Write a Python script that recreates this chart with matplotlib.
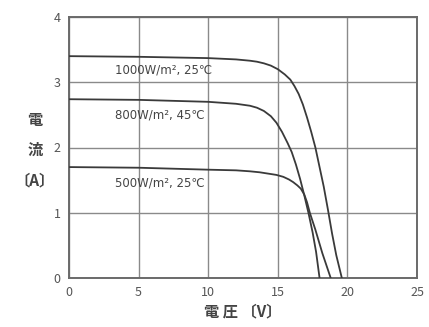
import matplotlib
matplotlib.use("Agg")
import matplotlib.pyplot as plt

# I-V curves: voltage (V), current (A)
v_1000 = [0, 5, 10, 12, 13, 13.5, 14.0, 14.5, 15.0, 15.5, 15.9, 16.2, 16.5,
          16.8, 17.1, 17.4, 17.7, 18.0, 18.3, 18.6, 18.9, 19.2, 19.6]
i_1000 = [3.40, 3.39, 3.37, 3.35, 3.33, 3.315, 3.29, 3.255, 3.20, 3.12, 3.04,
          2.94, 2.82, 2.66, 2.46, 2.24, 2.00, 1.70, 1.40, 1.05, 0.68, 0.35, 0.0]

v_800 = [0, 5, 10, 12, 13, 13.5, 14.0, 14.5, 14.9, 15.3, 15.7, 16.0, 16.3,
         16.6, 16.9, 17.2, 17.5, 17.75, 18.0]
i_800 = [2.74, 2.73, 2.70, 2.67, 2.64, 2.61, 2.56, 2.48, 2.38, 2.24, 2.07,
         1.93, 1.74, 1.52, 1.27, 1.00, 0.70, 0.40, 0.0]

v_500 = [0, 5, 10, 12, 13, 13.7, 14.3, 14.9, 15.4, 15.8, 16.1, 16.4, 16.65,
         16.9, 17.1, 17.3, 17.7, 18.2, 18.8]
i_500 = [1.70, 1.69, 1.66, 1.65, 1.635, 1.62, 1.60, 1.58, 1.55, 1.51, 1.47,
         1.42, 1.37, 1.28, 1.16, 1.00, 0.74, 0.38, 0.0]

labels = ["1000W/m², 25℃", "800W/m², 45℃", "500W/m², 25℃"]
label_y = [3.19, 2.50, 1.46]

x_ticks = [0, 5, 10, 15, 20, 25]
y_ticks = [0, 1, 2, 3, 4]

plt.rcParams['font.family'] = ['Noto Sans CJK JP', 'DejaVu Sans']

fig = plt.figure(figsize=(4.29, 3.27), dpi=100)
ax = fig.add_axes([69 / 429, 49 / 327, 348 / 429, 261 / 327])

for v, i in [(v_1000, i_1000), (v_800, i_800), (v_500, i_500)]:
    ax.plot(v, i, color='#3a3a3a', lw=1.3, zorder=3)

for txt, y in zip(labels, label_y):
    ax.text(3.3, y, txt, fontsize=8.5, color='#444444', ha='left',
            va='center', family=['DejaVu Sans Condensed', 'DejaVu Sans'])

ax.set_xlim(0, 25)
ax.set_ylim(0, 4)
ax.set_xticks(x_ticks)
ax.set_yticks(y_ticks)
ax.tick_params(length=0, labelsize=9, labelcolor='#555555', pad=6)
ax.grid(True, color='#8a8a8a', lw=1.0)
for s in ax.spines.values():
    s.set_color('#6a6a6a')
    s.set_linewidth(1.4)

ax.set_xlabel("電 圧 〔V〕", fontsize=11, color='#444444', fontweight='bold',
              labelpad=3)
fig.text(35 / 429, 1 - 150 / 327, "電\n流\n〔A〕", fontsize=11,
         color='#444444', fontweight='bold', ha='center', va='center',
         linespacing=2.1)

fig.savefig("out.png", dpi=100)
